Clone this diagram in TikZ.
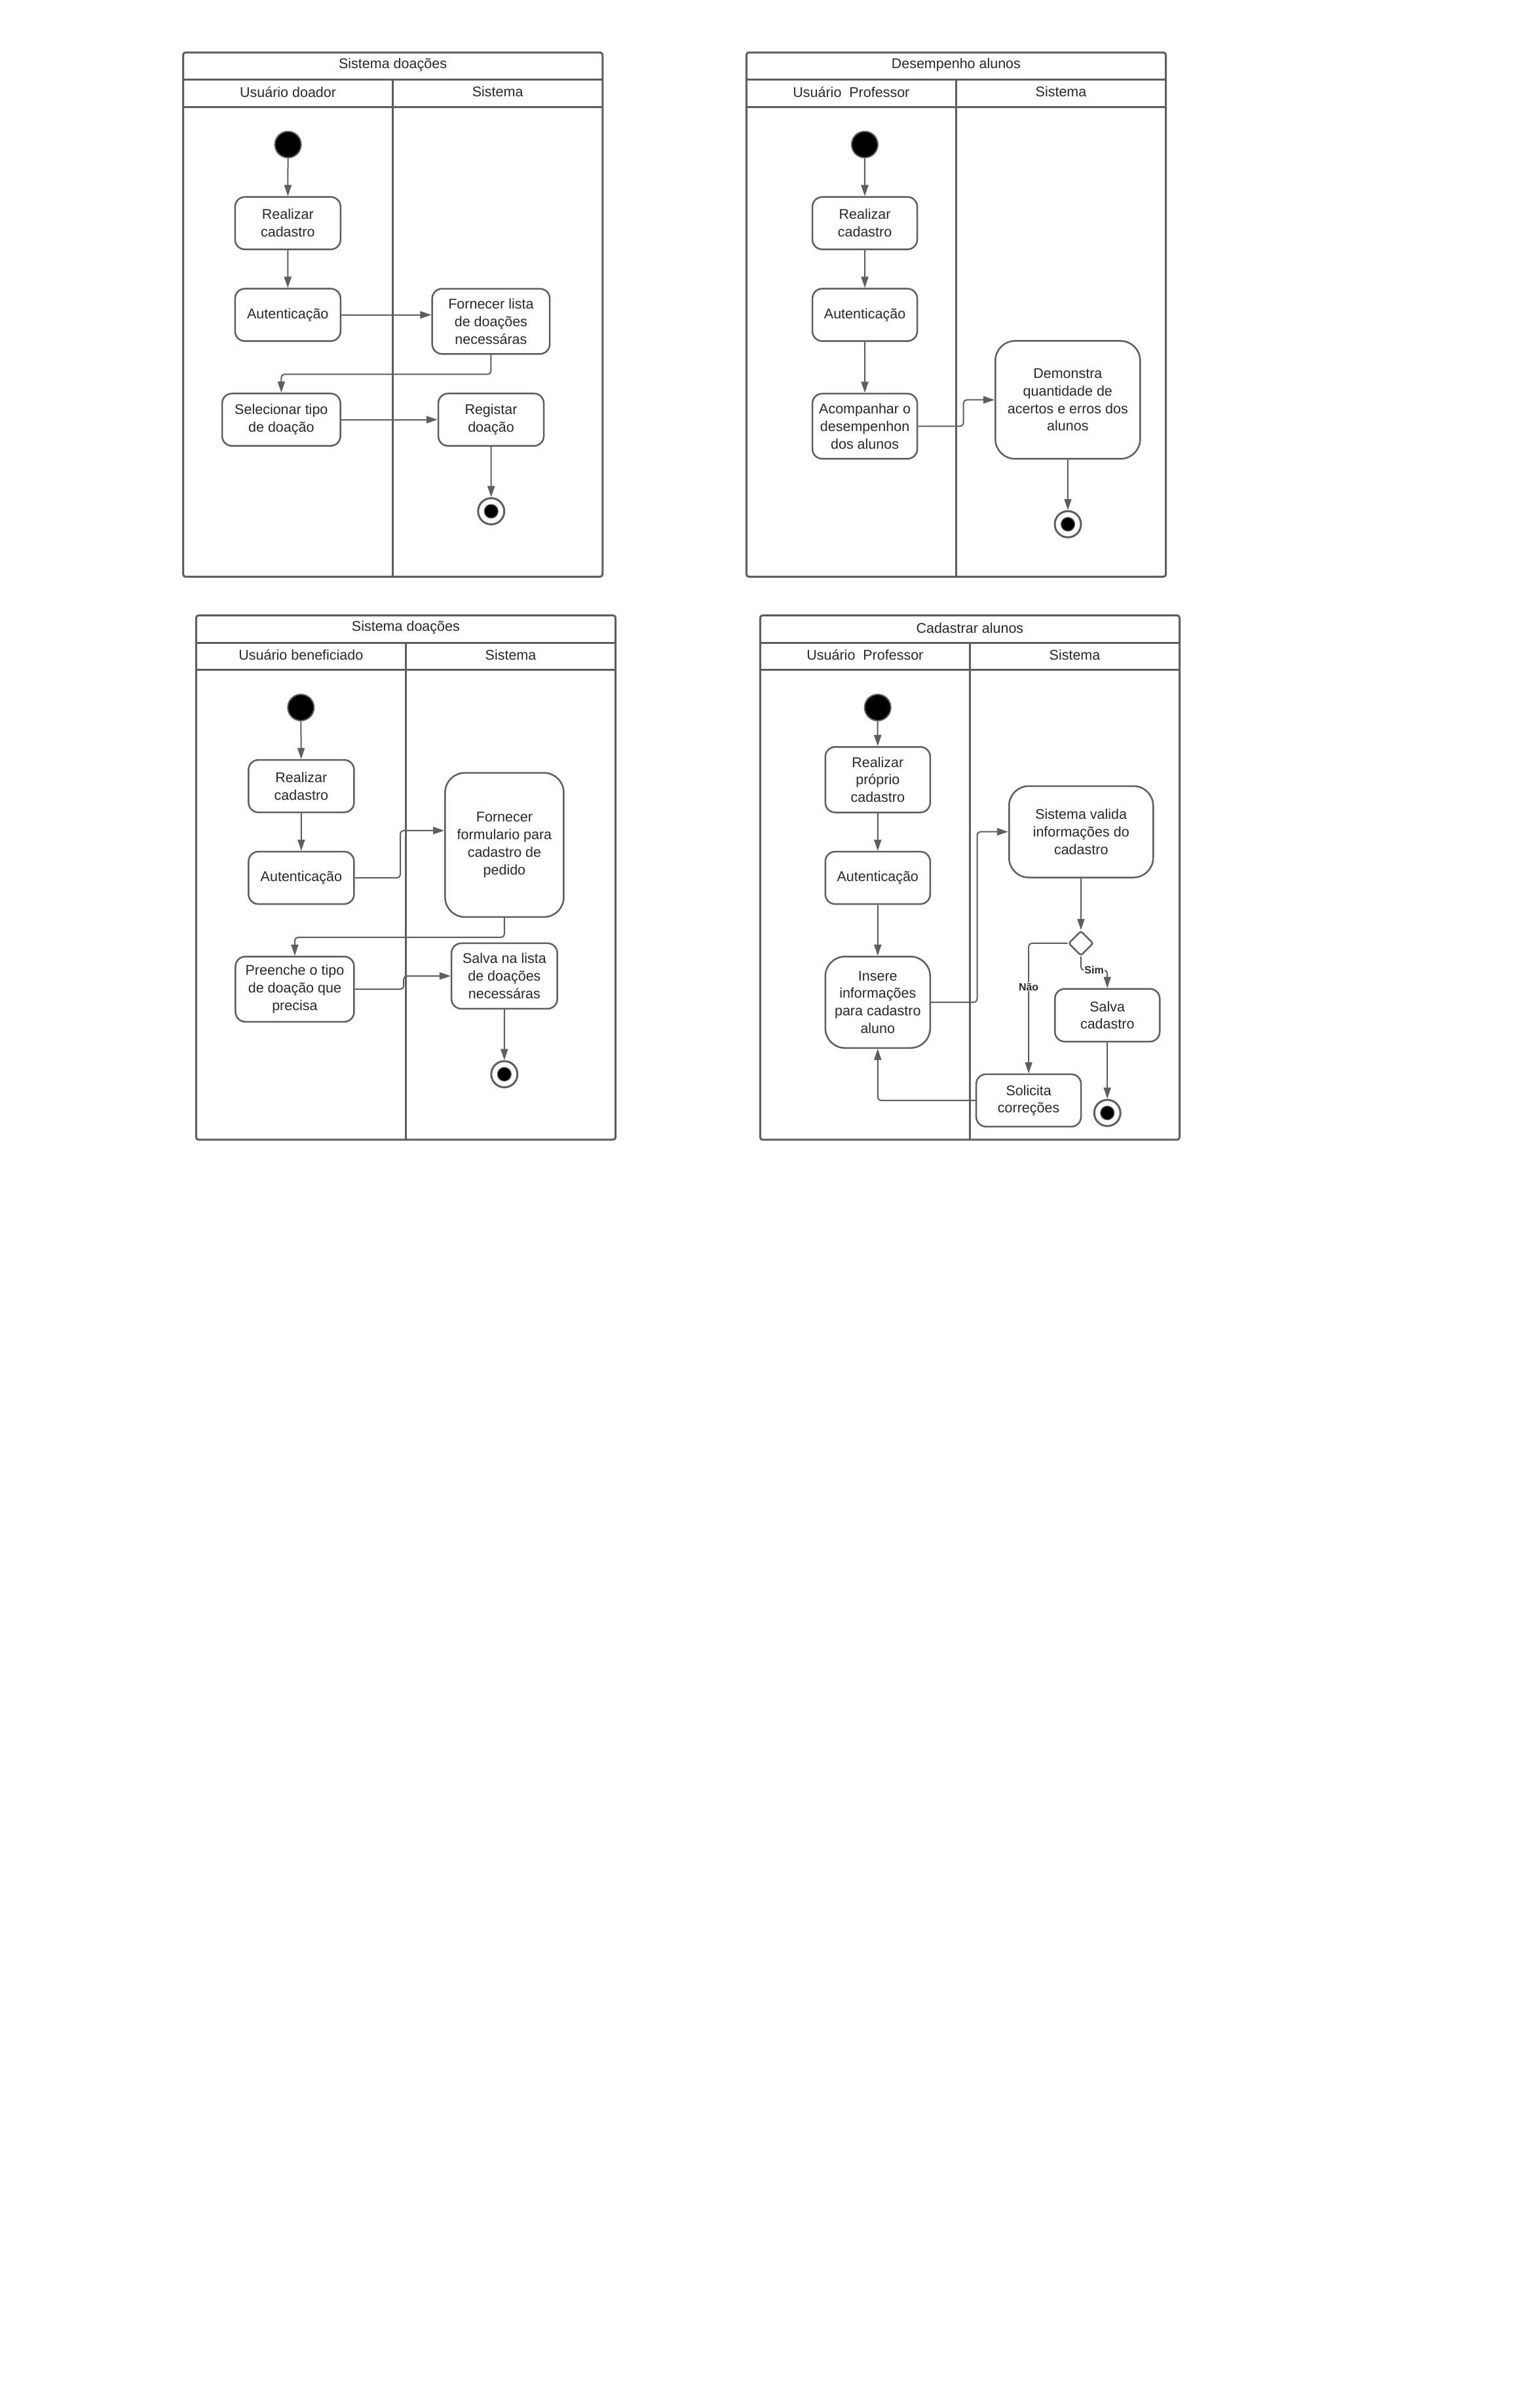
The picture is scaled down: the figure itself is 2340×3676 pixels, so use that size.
\documentclass[tikz,border=0pt]{standalone}
\usepackage{fontspec}
\setmainfont{Liberation Sans}
\usetikzlibrary{arrows.meta,shapes.geometric}
\definecolor{lc}{RGB}{94,94,94}
\definecolor{tc}{RGB}{40,40,40}
\newcommand{\swim}[4]{%
  \draw[frm, rounded corners=4pt] (0,0) rectangle (643.5,804.5);
  \draw[frm] (0,42) -- (643.5,42) (0,84) -- (643.5,84) (321.7,42) -- (321.7,804.5);
  \node[txt] (#1title) at (321.7,19) {#2};
  \node[txt] (#1laneA) at (160.9,60.5) {#3};
  \node[txt] (#1laneB) at (482.6,60.5) {#4};
}
\begin{document}
\begin{tikzpicture}[x=1pt,y=-1pt,
  txt/.style={font=\fontsize{21.5}{26.8}\selectfont, text=tc, inner sep=0pt},
  frm/.style={draw=lc, line width=3pt},
  act/.style={draw=lc, line width=2.5pt, rounded corners=15pt, fill=white, align=center,
    inner sep=0pt, font=\fontsize{21.5}{26.8}\selectfont, text=tc},
  box/.style 2 args={act, minimum width=#1pt, minimum height=#2pt},
  bigbox/.style 2 args={act, rounded corners=30pt, minimum width=#1pt, minimum height=#2pt},
  startnode/.style={circle, fill=black, draw=lc, line width=2pt, minimum size=40pt, inner sep=0pt},
  endnode/.style={circle, draw=lc, line width=3pt, fill=white, minimum size=40pt, inner sep=0pt,
    path picture={\fill[black] (path picture bounding box.center) circle[radius=10.5pt];
      \draw[lc, line width=1.2pt] (path picture bounding box.center) circle[radius=10.5pt];}},
  decision/.style={diamond, draw=lc, line width=2.5pt, fill=white, minimum size=38pt,
    inner sep=0pt, rounded corners=3pt},
  arr/.style={draw=lc, line width=2pt, rounded corners=5pt, -{Triangle[length=17pt,width=11pt]}},
  lbl/.style={font=\bfseries\fontsize{16}{18}\selectfont, text=tc, fill=white, inner sep=1pt}]
\fill[white] (0,0) rectangle (2340,3676);
\useasboundingbox (0,0) rectangle (2340,3676);

% ---------- Diagram 1 ----------
\begin{scope}[shift={(279.5,80)}, scale=0.995]
  \swim{a}{Sistema doações}{Usuário doador}{Sistema}
  \node[startnode] (a0) at (160.9,141.4) {};
  \node[box={161}{80}] (a1) at (160.6,262) {Realizar\\cadastro};
  \node[box={161}{80}] (a2) at (160.6,402.7) {Autenticação};
  \node[box={179.5}{99.5}] (a3) at (472.3,412.6) {Fornecer lista\\de doações\\necessáras};
  \node[box={180.5}{80}] (a4) at (150.6,563.5) {Selecionar tipo\\de doação};
  \node[box={161}{80}] (a5) at (472.4,563.5) {Registar\\doação};
  \node[endnode] (a6) at (472.6,704) {};
  \draw[arr] (a0) -- (a1);
  \draw[arr] (a1) -- (a2);
  \draw[arr] (a2.east) -- (a2.east -| a3.west);
  \draw[arr] (a3.south) -- ++(0,30) -| (a4.north);
  \draw[arr] (a4.east) -- (a4.east -| a5.west);
  \draw[arr] (a5) -- (a6);
\end{scope}

% ---------- Diagram 2 ----------
\begin{scope}[shift={(1139.3,80)}, scale=0.995]
  \swim{b}{Desempenho alunos}{Usuário\ \ Professor}{Sistema}
  \node[startnode] (b0) at (181.5,141.4) {};
  \node[box={160}{80}] (b1) at (181.7,262) {Realizar\\cadastro};
  \node[box={160}{80}] (b2) at (181.7,402.7) {Autenticação};
  \node[box={160}{99.5}] (b3) at (181.7,573.5) {Acompanhar o\\desempenhon\\dos alunos};
  \node[bigbox={221}{180}] (b4) at (493,533.1) {Demonstra\\quantidade de\\acertos e erros dos\\alunos};
  \node[endnode] (b5) at (493.2,723.9) {};
  \draw[arr] (b0) -- (b1);
  \draw[arr] (b1) -- (b2);
  \draw[arr] (b2) -- (b3);
  \draw[arr] (b3.east) -- ++(69.7,0) |- (b4.west);
  \draw[arr] (b4) -- (b5);
\end{scope}

% ---------- Diagram 3 ----------
\begin{scope}[shift={(299.3,939.4)}, scale=0.995]
  \swim{c}{Sistema doações}{Usuário beneficiado}{Sistema}
  \node[startnode] (c0) at (160.8,141.4) {};
  \node[box={161}{80}] (c1) at (161.4,262) {Realizar\\cadastro};
  \node[box={161}{80}] (c2) at (161.4,402.7) {Autenticação};
  \node[bigbox={181}{220}] (c3) at (473,352.2) {Fornecer\\formulario para\\cadastro de\\pedido};
  \node[box={181}{99.5}] (c4) at (151.4,573.5) {Preenche o tipo\\de doação que\\precisa};
  \node[box={161.5}{100}] (c5) at (473,553.3) {Salva na lista\\de doações\\necessáras};
  \node[endnode] (c6) at (472.9,704) {};
  \draw[arr] (c0) -- (c1);
  \draw[arr] (c1) -- (c2);
  \draw[arr] (c2.east) -- ++(69.8,0) |- ([yshift=22pt]c3.west);
  \draw[arr] (c3.south) -- ++(0,30) -| (c4.north);
  \draw[arr] (c4.east) -- ++(74.9,0) |- (c5.west);
  \draw[arr] (c5) -- (c6);
\end{scope}

% ---------- Diagram 4 ----------
\begin{scope}[shift={(1160.3,939.4)}, scale=0.995]
  \swim{d}{Cadastrar alunos}{Usuário\ \ Professor}{Sistema}
  \node[startnode] (d0) at (180.3,141.4) {};
  \node[box={160}{100}] (d1) at (180.4,252.1) {Realizar\\próprio\\cadastro};
  \node[box={160}{80}] (d2) at (180.4,402.7) {Autenticação};
  \node[bigbox={160}{139.5}] (d3) at (180.4,593.6) {Insere\\informações\\para cadastro\\aluno};
  \node[bigbox={220}{139.5}] (d4) at (492.4,332) {Sistema valida\\informações do\\cadastro};
  \node[decision] (dd) at (492.1,503.1) {};
  \node[box={160}{80.5}] (d5) at (532.6,613.5) {Salva\\cadastro};
  \node[box={160}{80}] (d7) at (411.9,744.2) {Solicita\\correções};
  \node[endnode] (d8) at (532.6,763.4) {};
  \draw[arr] (d0) -- (d1);
  \draw[arr] (d1) -- (d2);
  \draw[arr] (d2) -- (d3);
  \draw[arr] (d3.east) -- ++(70.9,0) |- (d4.west);
  \draw[arr] (d4) -- (dd);
  \draw[arr] (dd.west) -| node[lbl, pos=0.667] {Não} (d7.north);
  \draw[arr] (dd.south) -- ++(0,21) -| node[lbl, pos=0.25] {Sim} (d5.north);
  \draw[arr] (d5) -- (d8);
  \draw[arr] (d7.west) -| (d3.south);
\end{scope}
\end{tikzpicture}
\end{document}
